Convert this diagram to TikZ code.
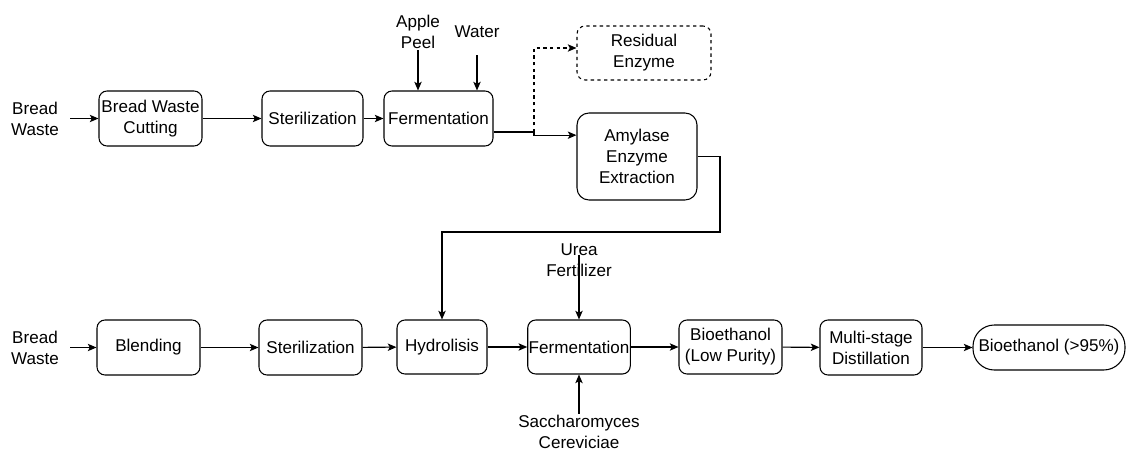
\documentclass[tikz,border=0pt]{standalone}
\usepackage{fontspec}
\setmainfont{Liberation Sans}
\usetikzlibrary{arrows.meta}

\tikzset{every picture/.style={line width=0.8pt},
  proc/.style={draw, rounded corners=6pt, align=center, inner sep=0.75pt,
    minimum height=41.25pt, font=\fontsize{12.8}{15.75}\selectfont},
  lbl/.style={align=center, inner sep=0.75pt, font=\fontsize{12.8}{15.75}\selectfont},
  arr/.style={-{Stealth[length=6.5pt,width=5.5pt,inset=1.5pt]}},
}

\begin{document}
\begin{tikzpicture}[x=0.75pt,y=0.75pt,yscale=-1,xscale=1]
\useasboundingbox (0,0) rectangle (1127,452);

% Text Node
\node [lbl] (bw1) at (35,118.5) {Bread\\Waste};
% Text Node
\node [lbl] (apple) at (418,32) {Apple\\Peel};
% Text Node
\node [lbl] (water) at (477,32) {Water};
% Text Node
\node [lbl] (bw2) at (35,347.5) {Bread\\Waste};
% Text Node
\node [lbl] (urea) at (579,260) {Urea\\Fertilizer};
% Text Node
\node [lbl] (sacch) at (579,432) {Saccharomyces\\Cereviciae};

%Rounded Rect
\node [proc, minimum width=77.25pt] (bwc) at (150.5,118.5) {Bread Waste\\Cutting};
%Rounded Rect
\node [proc, minimum width=75.75pt] (ster1) at (312.5,118.5) {Sterilization};
%Rounded Rect
\node [proc, minimum width=81.75pt] (ferm1) at (438.5,118.5) {Fermentation};
%Rounded Rect
\node [proc, dashed, dash pattern=on 2.5pt off 2.5pt, minimum width=100.5pt, minimum height=40.5pt] (resid) at (644,53) {Residual\\Enzyme};
%Rounded Rect
\node [proc, rounded corners=9pt, minimum width=90pt, minimum height=65.25pt] (amyl) at (637,156.5) {Amylase\\Enzyme\\Extraction};

%Rounded Rect
\node [proc, minimum width=77.25pt] (blend) at (148.5,347.5) {Blending};
%Rounded Rect
\node [proc, minimum width=77.25pt] (ster2) at (310.5,347.5) {Sterilization};
%Rounded Rect
\node [proc, minimum width=67.5pt, minimum height=40.5pt] (hydro) at (442,347) {Hydrolisis};
%Rounded Rect
\node [proc, minimum width=76.5pt, minimum height=40.5pt] (ferm2) at (579,347) {Fermentation};
%Rounded Rect
\node [proc, minimum width=77.25pt, minimum height=40.5pt] (blp) at (730.5,347) {Bioethanol\\(Low Purity)};
%Rounded Rect
\node [proc, minimum width=76.5pt] (dist) at (871,347.5) {Multi-stage\\Distillation};
%Rounded Rect
\node [proc, rounded corners=16pt, minimum width=114pt, minimum height=33.75pt] (final) at (1049,347.5) {Bioethanol (>95\%)};

%Straight Lines
\draw [arr, shorten <=7.5pt] (bw1) -- (bwc);
\draw [arr] (bwc) -- (ster1);
\draw [arr] (ster1) -- (ferm1);
\draw [arr] (apple) -- (apple |- ferm1.north);
\draw [arr, shorten <=12pt] (water) -- (water |- ferm1.north);

%Straight Lines
\coordinate (split) at (534,132);
\draw [arr] (ferm1.east |- split) -- (split) |- ([yshift=-16pt]amyl.west);
\draw [arr, dash pattern=on 2.5pt off 2.5pt] (split) |- ([yshift=-3.75pt]resid.west);
\draw [arr] (amyl.east) -| (720,232) -| (hydro.north);

%Straight Lines
\draw [arr, shorten <=7.5pt] (bw2) -- (blend);
\draw [arr] (blend) -- (ster2);
\draw [arr] (ster2) -- (hydro);
\draw [arr] (hydro) -- (ferm2);
\draw [arr] (ferm2) -- (blp);
\draw [arr] (blp) -- (dist);
\draw [arr] (dist) -- (final);
\draw [arr] ([yshift=-4pt]urea.center) -- (ferm2);
\draw [arr] (sacch) -- (ferm2);

\end{tikzpicture}
\end{document}
